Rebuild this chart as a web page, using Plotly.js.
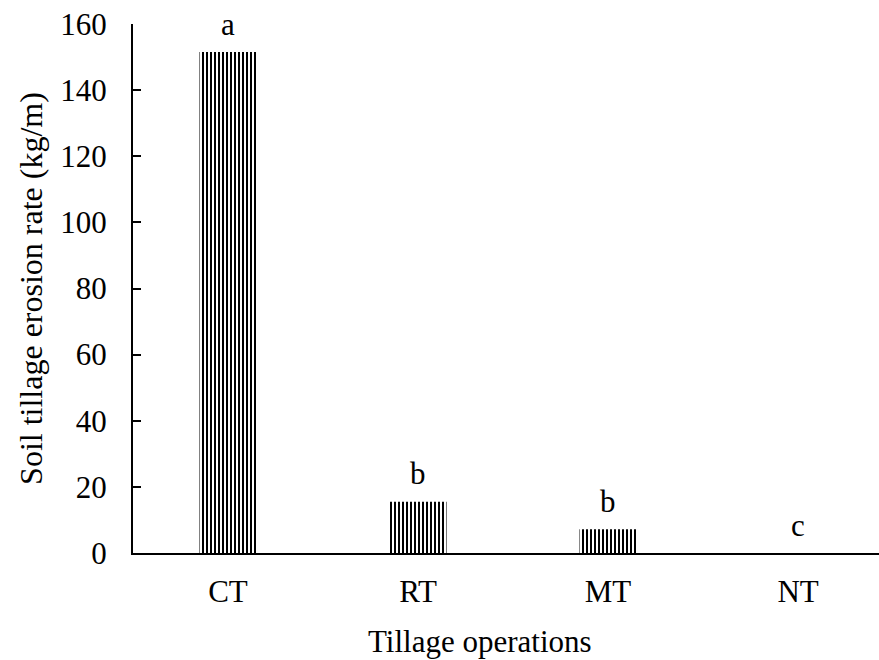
<!DOCTYPE html>
<html>
<head>
<meta charset="utf-8">
<script src="https://cdn.plot.ly/plotly-3.0.1.min.js"></script>
<style>html,body{margin:0;padding:0;background:#fff;}</style>
</head>
<body>
<div id="chart" style="width:879px;height:660px;"></div>
<script>
const categories = ["CT", "RT", "MT", "NT"];
const erosionRate = [151.5, 15.5, 7.2, 0];
const sigLetters = ["a", "b", "b", "c"];
const yTicks = [0, 20, 40, 60, 80, 100, 120, 140, 160];

const fontFam = "Liberation Serif, Times New Roman, serif";
const fs = 31;

const trace = {
  type: "bar",
  x: categories,
  y: erosionRate,
  width: 0.3,
  marker: {
    color: "#ffffff",
    line: {width: 0},
    pattern: {shape: "|", fgcolor: "#000000", bgcolor: "#ffffff", size: 4, solidity: 0.5}
  },
  hoverinfo: "skip"
};

const annotations = categories.map((c, i) => ({
  x: c, y: erosionRate[i], xref: "x", yref: "y",
  text: sigLetters[i], showarrow: false, yshift: 28,
  font: {family: fontFam, size: fs, color: "#000"}
}));
annotations.push({
  text: "Tillage operations", xref: "paper", yref: "paper",
  x: 0.465, y: -0.168, xanchor: "center", yanchor: "middle",
  showarrow: false, font: {family: fontFam, size: fs, color: "#000"}
});

const layout = {
  width: 879, height: 660,
  margin: {l: 133, r: 0, t: 24, b: 107, pad: 0},
  paper_bgcolor: "#ffffff", plot_bgcolor: "#ffffff",
  showlegend: false,
  font: {family: fontFam, size: fs, color: "#000"},
  xaxis: {
    type: "category",
    range: [-0.5, 3.426],
    showline: true, linecolor: "#000", linewidth: 2,
    ticks: "", showgrid: false, zeroline: false,
    tickfont: {family: fontFam, size: fs, color: "#000"},
    ticklabelstandoff: 10
  },
  yaxis: {
    range: [0, 160],
    tickvals: yTicks,
    ticktext: yTicks.map(String),
    showline: true, linecolor: "#000", linewidth: 2,
    ticks: "inside", ticklen: 8, tickwidth: 2, tickcolor: "#000",
    showgrid: false, zeroline: false,
    tickfont: {family: fontFam, size: fs, color: "#000"},
    ticklabelstandoff: 18,
    title: {text: "Soil tillage erosion rate (kg/m)", font: {family: fontFam, size: 32, color: "#000"}, standoff: 8}
  },
  annotations: annotations,
  bargap: 0.7
};

Plotly.newPlot("chart", [trace], layout, {displayModeBar: false, staticPlot: true});
</script>
</body>
</html>
